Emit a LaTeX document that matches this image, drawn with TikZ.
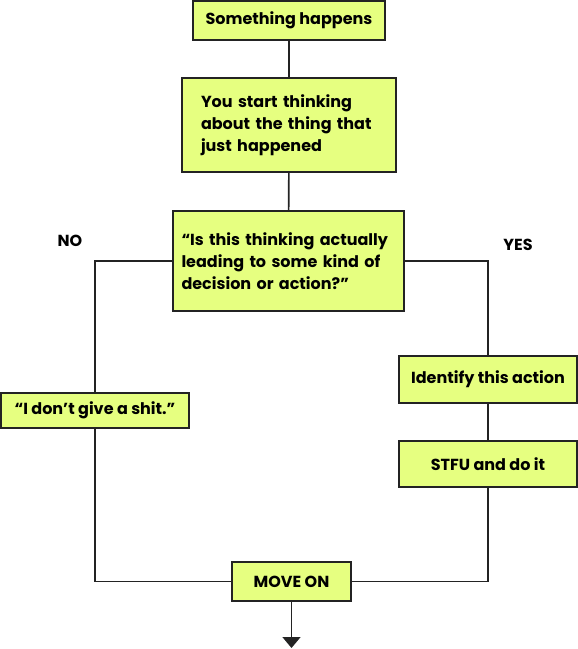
\documentclass[tikz,border=0pt]{standalone}
\usepackage{fontspec}
\setmainfont{Poppins}
\usepackage{tikz}
\usepackage{xcolor}
\usetikzlibrary{arrows.meta}

\definecolor{boxfill}{RGB}{230,255,128}
\definecolor{edge}{RGB}{35,35,35}
\tikzset{
  block/.style={draw=edge, fill=boxfill, line width=1.5pt, inner sep=0pt,
    font=\bfseries\fontsize{16}{22}\selectfont},
  wire/.style={draw=edge, line width=1.6pt},
  answer/.style={font=\bfseries\fontsize{16}{18}\selectfont}
}

\begin{document}
\begin{tikzpicture}[x=1pt,y=-1pt]
    \useasboundingbox (0,0) rectangle (578,649);
    \node[block, minimum width=192pt, minimum height=39pt] (happen) at (289,20.5) {Something happens};
    \node[block, minimum width=214pt, minimum height=94pt, text width=176pt, align=left] (think) at (289,125)
        {You start thinking\\about the thing that\\just happened};
    \node[block, minimum width=231pt, minimum height=100pt, text width=214pt, align=left] (ask) at (288.5,261)
        {“Is this thinking actually\\leading to some kind of\\decision or action?”};
    \node[block, minimum width=188pt, minimum height=35pt] (nope) at (95,410.5) {“I don’t give a shit.”};
    \node[block, minimum width=178pt, minimum height=47pt] (ident) at (488,379.5) {Identify this action};
    \node[block, minimum width=178pt, minimum height=46pt] (stfu) at (488,464) {STFU and do it};
    \node[block, minimum width=119pt, minimum height=39pt] (moveon) at (291.5,581.5) {MOVE ON};
    \node[answer] (no) at (70,241) {NO};
    \node[answer] (yes) at (518,245) {YES};
    \coordinate (out) at (291.5,648);

    \draw[wire] (happen) -- (think);
    \draw[wire] (think) -- (ask);
    \draw[wire] (ask.west) -| (nope.north);
    \draw[wire] (ask.east) -| (ident.north);
    \draw[wire] (ident) -- (stfu);
    \draw[wire] (nope.south) |- (moveon.west);
    \draw[wire] (stfu.south) |- (moveon.east);
    \draw[wire, -{Triangle[width=18pt,length=11pt]}] (moveon.south) -- (out);
\end{tikzpicture}
\end{document}
